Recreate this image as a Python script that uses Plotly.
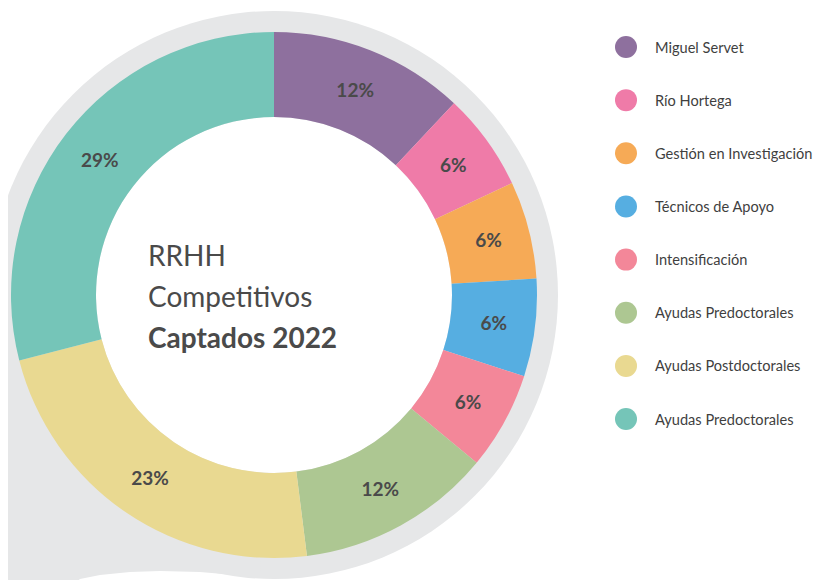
import plotly.graph_objects as go

# ---- data ----
labels = ["Miguel Servet", "Río Hortega", "Gestión en Investigación", "Técnicos de Apoyo",
          "Intensificación", "Ayudas Predoctorales", "Ayudas Postdoctorales", "Ayudas Predoctorales"]
values = [12, 6, 6, 6, 6, 12, 23, 29]
colors = ["#8e709e", "#ef7ba8", "#f6aa56", "#56aee1", "#f38799", "#adc792", "#e9d991", "#75c5b8"]
title_lines = ["RRHH", "Competitivos", "<b>Captados 2022</b>"]

# page has an 8px body margin: the figure starts at (8, 8) in the window
OFF = 8
WIN_W, WIN_H = 821, 580
W, H = WIN_W - OFF, WIN_H - OFF
TEXT = "#4a4a4a"
GREY = "#e6e7e8"
FONT = "Lato"

def px(x):
    return (x - OFF) / W

def py(y):
    return 1 - (y - OFF) / H

cx, cy, r_out, r_in, r_grey = 274, 295, 263, 178, 284

fig = go.Figure()

fig.add_trace(go.Pie(
    labels=[f"{l} {i}" for i, l in enumerate(labels)],
    values=values,
    text=[f"{v}%" for v in values],
    texttemplate="%{text}",
    textinfo="text",
    textposition="inside",
    insidetextorientation="horizontal",
    insidetextfont=dict(family=FONT, size=19, color=TEXT, weight="bold"),
    marker=dict(colors=colors, line=dict(width=0)),
    hole=r_in / r_out,
    sort=False,
    direction="clockwise",
    rotation=0,
    showlegend=False,
    hoverinfo="skip",
    domain=dict(x=[px(cx - r_out), px(cx + r_out)], y=[py(cy + r_out), py(cy - r_out)]),
))

# legend drawn as a scatter on a hidden full-page axis
idx = list(range(len(labels)))
leg_x0, leg_y0, leg_dy = 626, 47, 53.15
fig.add_trace(go.Scatter(
    x=[leg_x0] * len(labels), y=idx, mode="markers",
    marker=dict(size=22, color=colors, line=dict(width=0)),
    showlegend=False, hoverinfo="skip",
))
for i, l in enumerate(labels):
    fig.add_annotation(x=653, y=i, xref="x", yref="y", text=l, showarrow=False,
                       xanchor="left", yanchor="middle",
                       font=dict(family=FONT, size=14.6, color="#3f3f3f"))

# center title
for line, yy in zip(title_lines, [255, 296, 337]):
    fig.add_annotation(x=px(146), y=py(yy), xref="paper", yref="paper", text=line,
                       showarrow=False, xanchor="left", yanchor="middle",
                       font=dict(family=FONT, size=28, color=TEXT))

# decorative grey background
fig.add_shape(type="circle", xref="paper", yref="paper", layer="below",
              x0=px(cx - r_grey), x1=px(cx + r_grey), y0=py(cy + r_grey), y1=py(cy - r_grey),
              fillcolor=GREY, line=dict(width=0))
blob = [(-5, 290), (-5, 585), (73, 585), (80, 579), (100, 575), (130, 572), (160, 571),
        (200, 572), (235, 575), (260, 578), (274, 295)]
path = "M " + " L ".join(f"{px(a):.5f},{py(b):.5f}" for a, b in blob) + " Z"
fig.add_shape(type="path", xref="paper", yref="paper", layer="below", path=path,
              fillcolor=GREY, line=dict(width=0))
# white hole
fig.add_shape(type="circle", xref="paper", yref="paper", layer="below",
              x0=px(cx - r_in), x1=px(cx + r_in), y0=py(cy + r_in), y1=py(cy - r_in),
              fillcolor="white", line=dict(width=0))

fig.update_layout(
    width=W, height=H,
    margin=dict(l=0, r=0, t=0, b=0),
    paper_bgcolor="white", plot_bgcolor="rgba(0,0,0,0)",
    xaxis=dict(range=[OFF, WIN_W], visible=False, domain=[0, 1], fixedrange=True),
    yaxis=dict(range=[(WIN_H - leg_y0) / leg_dy, (OFF - leg_y0) / leg_dy], visible=False,
               domain=[0, 1], fixedrange=True),
    font=dict(family=FONT),
)

fig.write_html("out.html")
